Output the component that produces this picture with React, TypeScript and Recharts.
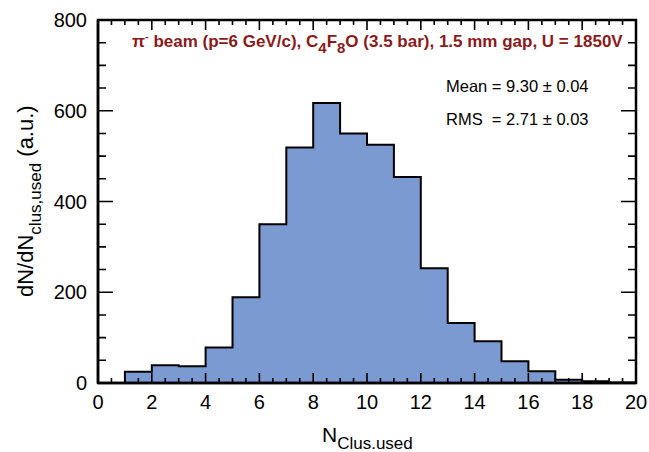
import { ComposedChart, Area, XAxis, YAxis } from 'recharts';

// histogram bins: lower edge of each bin (width 1) and its count
const binStart = [1, 2, 3, 4, 5, 6, 7, 8, 9, 10, 11, 12, 13, 14, 15, 16, 17, 18, 19];
const counts = [25, 39, 37, 78, 189, 350, 519, 617, 550, 525, 454, 253, 132, 92, 48, 26, 7, 4, 1];

const xTicks = Array.from({ length: 41 }, (_, i) => i * 0.5);
const yTicks = Array.from({ length: 17 }, (_, i) => i * 50);
const X_DOMAIN: [number, number] = [0, 20];
const Y_DOMAIN: [number, number] = [0, 800];

const FONT = '"Liberation Sans", Arial, sans-serif';
const FILL = '#7b9ad2';
const TITLE_RED = '#8c1a1a';

const W = 649;
const H = 452;
const MARGIN = { top: 20, right: 13, bottom: 9, left: 8 };
const YAXIS_W = 90;
const XAXIS_H = 60;
// plot frame, from the layout numbers above
const PLOT_LEFT = MARGIN.left + YAXIS_W;
const PLOT_RIGHT = W - MARGIN.right;
const PLOT_TOP = MARGIN.top;
const PLOT_BOTTOM = H - MARGIN.bottom - XAXIS_H;

const isMajorX = (v: number) => v % 2 === 0;
const isMajorY = (v: number) => v % 200 === 0;

// step outline: start at baseline, one point per bin, close at the last edge
const stepData = [
  { x: binStart[0], y: 0 },
  ...binStart.map((b, i) => ({ x: b, y: counts[i] })),
  { x: binStart[binStart.length - 1] + 1, y: counts[counts.length - 1] },
  { x: binStart[binStart.length - 1] + 1, y: 0 },
];

const XTick = ({ x, y, payload }: any) =>
  isMajorX(payload.value) ? (
    <text x={x} y={y + 26} textAnchor="middle" fontSize={20} fontFamily={FONT} fill="#000">
      {payload.value}
    </text>
  ) : (
    <g />
  );

const YTick = ({ x, y, payload }: any) =>
  isMajorY(payload.value) ? (
    <text x={x - 11} y={y + 7} textAnchor="end" fontSize={20} fontFamily={FONT} fill="#000">
      {payload.value}
    </text>
  ) : (
    <g />
  );

// inward tick marks on all four sides of the frame
function FrameTicks() {
  const sx = (v: number) => PLOT_LEFT + ((v - X_DOMAIN[0]) / (X_DOMAIN[1] - X_DOMAIN[0])) * (PLOT_RIGHT - PLOT_LEFT);
  const sy = (v: number) => PLOT_BOTTOM - ((v - Y_DOMAIN[0]) / (Y_DOMAIN[1] - Y_DOMAIN[0])) * (PLOT_BOTTOM - PLOT_TOP);
  let d = '';
  xTicks.forEach((v) => {
    const len = isMajorX(v) ? 10 : 5;
    const px = sx(v);
    d += `M${px},${PLOT_BOTTOM}V${PLOT_BOTTOM - len}M${px},${PLOT_TOP}V${PLOT_TOP + len}`;
  });
  yTicks.forEach((v) => {
    const len = isMajorY(v) ? 15 : 8;
    const py = sy(v);
    d += `M${PLOT_LEFT},${py}H${PLOT_LEFT + len}M${PLOT_RIGHT},${py}H${PLOT_RIGHT - len}`;
  });
  return <path d={d} stroke="#000" strokeWidth={1.6} fill="none" />;
}

export default function App() {
  return (
    <div style={{ position: 'absolute', left: 0, top: 0, width: W, height: H, background: '#fff' }}>
      <div style={{ position: 'absolute', left: 0, top: 0 }}>
        <ComposedChart width={W} height={H} data={stepData} margin={MARGIN}>
          <Area
            type="stepAfter"
            dataKey="y"
            stroke="#000"
            strokeWidth={2}
            fill={FILL}
            fillOpacity={1}
            isAnimationActive={false}
            dot={false}
            activeDot={false}
          />
          <XAxis
            dataKey="x"
            type="number"
            domain={X_DOMAIN}
            ticks={xTicks}
            interval={0}
            height={XAXIS_H}
            tickSize={0}
            tickMargin={0}
            axisLine={{ stroke: '#000', strokeWidth: 2.5 }}
            tickLine={false}
            tick={<XTick />}
          />
          <YAxis
            type="number"
            domain={Y_DOMAIN}
            ticks={yTicks}
            interval={0}
            width={YAXIS_W}
            tickSize={0}
            tickMargin={0}
            axisLine={{ stroke: '#000', strokeWidth: 2.5 }}
            tickLine={false}
            tick={<YTick />}
          />
        </ComposedChart>
      </div>
      {/* frame, ticks and texts on top of the chart */}
      <svg width={W} height={H} style={{ position: 'absolute', left: 0, top: 0, pointerEvents: 'none' }}>
        <FrameTicks />
        <rect
          x={PLOT_LEFT}
          y={PLOT_TOP}
          width={PLOT_RIGHT - PLOT_LEFT}
          height={PLOT_BOTTOM - PLOT_TOP}
          fill="none"
          stroke="#000"
          strokeWidth={2.5}
        />
        <text x={132} y={47} fontSize={17} fontWeight="bold" fontFamily={FONT} fill={TITLE_RED}>
          π<tspan fontSize={11} dy={-7}>-</tspan>
          <tspan dy={7}> beam (p=6 GeV/c), C</tspan>
          <tspan fontSize={15} dy={6}>4</tspan>
          <tspan dy={-6}>F</tspan>
          <tspan fontSize={15} dy={6}>8</tspan>
          <tspan dy={-6}>O (3.5 bar), 1.5 mm gap, U = 1850V</tspan>
        </text>
        <text x={446} y={92} fontSize={16.5} fontFamily={FONT} fill="#000">
          Mean = 9.30 ± 0.04
        </text>
        <text x={446} y={125} fontSize={16.5} fontFamily={FONT} fill="#000" style={{ whiteSpace: 'pre' }}>
          RMS  = 2.71 ± 0.03
        </text>
        <text transform="translate(33,297) rotate(-90)" x={0} y={0} fontSize={22} fontFamily={FONT} fill="#000">
          <tspan>dN/dN</tspan>
          <tspan fontSize={17} dy={8}>clus,used</tspan>
          <tspan dy={-8}> (a.u.)</tspan>
        </text>
        <text x={322} y={442} fontSize={21} fontFamily={FONT} fill="#000">
          N<tspan fontSize={17} dy={7}>Clus.used</tspan>
        </text>
      </svg>
    </div>
  );
}
